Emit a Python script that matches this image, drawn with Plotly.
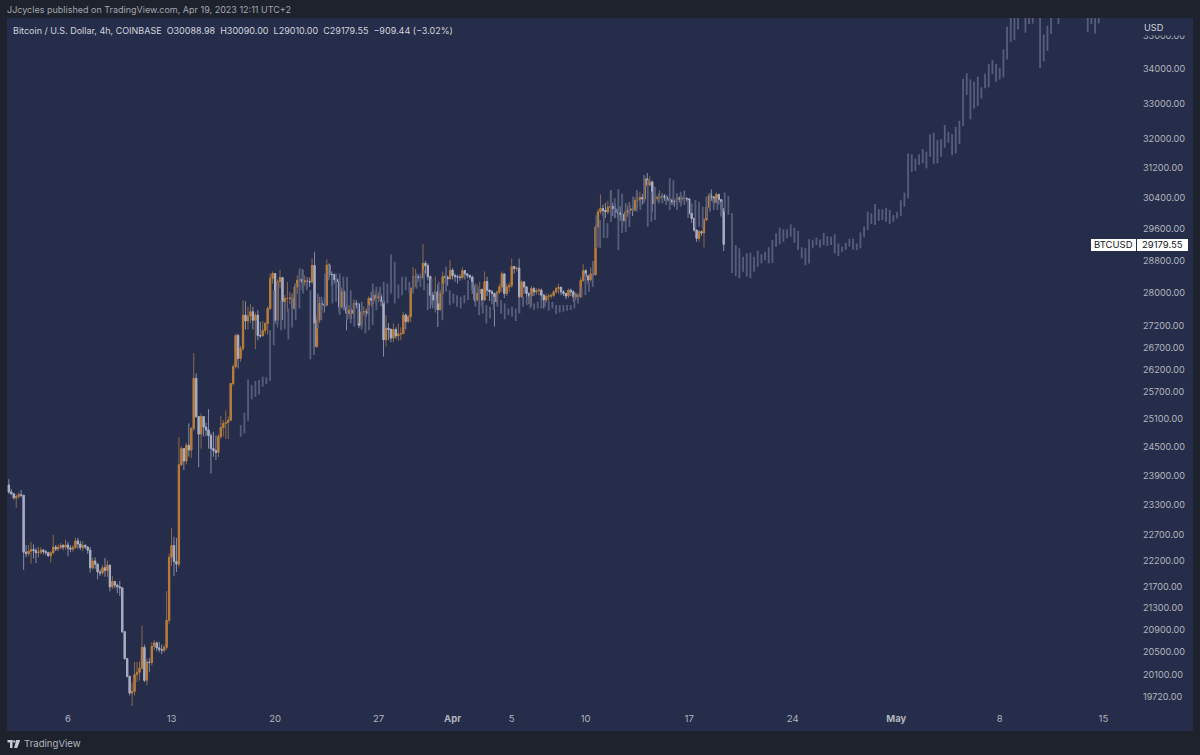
import pandas as pd
import plotly.graph_objects as go

# real 4h candles from Mar 2, one row per day
close_4h = [
    23540, 23500, 23420, 23450, 23480, 23470,
    22340, 22310, 22360, 22390, 22370, 22330,
    22340, 22380, 22350, 22330, 22270, 22330,
    22440, 22400, 22430, 22470, 22440, 22480,
    22420, 22400, 22430, 22560, 22500, 22430,
    22470, 22440, 22380, 22040, 22170, 22110,
    21960, 21940, 22040, 21990, 22090, 21680,
    21780, 21710, 21680, 21660, 20850, 20370,
    20060, 19770, 19800, 20090, 20130, 20200,
    20570, 19990, 20310, 20300, 20590, 20650,
    20560, 20530, 20520, 20570, 21060, 22240,
    22470, 22160, 22110, 24100, 24440, 24180,
    24510, 24410, 24870, 25975, 25130, 24750,
    25130, 24900, 24840, 24720, 24440, 24400,
    24360, 24700, 24890, 24980, 25000, 25050,
    25860, 26240, 26960, 26430, 26660, 27440,
    27300, 27420, 27520, 27320, 27440, 26960,
    26950, 27080, 27240, 27600, 28330, 28450,
    27320, 28250, 28350, 27760, 27840, 27840,
    27850, 27600, 28120, 28280, 28300, 28240,
    28270, 28250, 28240, 28650, 26700, 27320,
    27720, 27700, 27680, 28660, 28420, 28420,
    28300, 28250, 27640, 28000, 27640, 27480,
    27560, 27480, 27720, 27700, 27200, 27520,
    27520, 27480, 27840, 27800, 27920, 27850,
    27880, 27780, 26860, 27130, 27100, 26900,
    27100, 26950, 27000, 27000, 27440, 27290,
    27400, 28080, 28370, 28370, 28360, 28350,
    28700, 28640, 28370, 27920, 27800, 28000,
    27570, 27960, 28370, 28360, 28320, 28530,
    28400, 28370, 28360, 28350, 28520, 28440,
    28400, 28360, 28120, 27800, 27960, 28060,
    27800, 28250, 28040, 28000, 27960, 27760,
    27990, 28120, 28440, 27960, 28120, 28160,
    28620, 28570, 28580, 27880, 28240, 28120,
    27960, 27900, 28080, 28000, 28030, 28040,
    27920, 27800, 27890, 27900, 27910, 28000,
    28080, 28110, 28000, 27960, 27900, 28040,
    28000, 27880, 27930, 27880, 28280, 28520,
    28380, 28290, 28440, 28420, 29620, 30010,
    30100, 30050, 30010, 30130, 30150, 30100,
    30000, 29980, 29950, 29780, 29990, 30050,
    30090, 30060, 30310, 30330, 30390, 30350,
    30880, 30720, 30800, 30230, 30370, 30380,
    30400, 30430, 30390, 30350, 30310, 30270,
    30270, 30370, 30350, 30370, 30360, 30350,
    29970, 29840, 29540, 29330, 29500, 29470,
    29800, 30140, 30430, 30400, 30260, 30470,
    30330, 30088.98, 29179.55,
]
high_4h = [
    23800, 23600, 23520, 23490, 23530, 23580,
    23480, 22480, 22480, 22540, 22490, 22420,
    22440, 22440, 22400, 22390, 22350, 22360,
    22680, 22480, 22490, 22520, 22500, 22580,
    22540, 22470, 22480, 22620, 22620, 22560,
    22560, 22500, 22460, 22440, 22230, 22240,
    22130, 22010, 22090, 22230, 22180, 22090,
    21880, 21790, 21740, 21790, 21670, 20860,
    20380, 20060, 19950, 20310, 20310, 20320,
    20960, 20620, 20370, 20380, 20660, 20700,
    20670, 20670, 20620, 20620, 21600, 22310,
    22820, 22640, 22620, 24690, 24490, 24440,
    24560, 24980, 24900, 26550, 26090, 25130,
    25200, 25100, 25000, 25290, 24780, 24800,
    24720, 24750, 25140, 25050, 25260, 25130,
    25880, 26290, 27000, 27000, 26720, 27800,
    27770, 27640, 27700, 27640, 27500, 27560,
    27280, 27300, 27280, 27650, 28450, 28500,
    28450, 28300, 28540, 28350, 27920, 28240,
    28000, 27860, 28200, 28400, 28590, 28560,
    28400, 28360, 28350, 28820, 28990, 27450,
    27880, 27800, 27880, 28800, 28700, 28500,
    28450, 28350, 28330, 28100, 28040, 27700,
    27680, 27600, 27820, 27800, 27740, 27600,
    27650, 27600, 27890, 28000, 28050, 28020,
    28000, 27950, 27850, 27440, 27250, 27130,
    27240, 27150, 27240, 27150, 27520, 27480,
    27450, 28120, 28610, 28560, 28420, 28430,
    29180, 28760, 28700, 28400, 28000, 28370,
    28180, 28050, 28500, 28420, 28400, 28780,
    28580, 28450, 28420, 28430, 28600, 28540,
    28460, 28420, 28400, 28150, 28180, 28250,
    28070, 28500, 28370, 28060, 28050, 27980,
    28030, 28200, 28500, 28450, 28200, 28230,
    28820, 28640, 28620, 28820, 28280, 28260,
    28140, 27990, 28150, 28120, 28090, 28100,
    28080, 27950, 27960, 27950, 27960, 28040,
    28120, 28200, 28130, 28040, 27980, 28080,
    28080, 28040, 27990, 27960, 28350, 28680,
    28550, 28420, 28600, 28760, 29680, 30080,
    30470, 30200, 30250, 30300, 30560, 30250,
    30200, 30080, 30150, 29980, 30050, 30180,
    30180, 30150, 30400, 30520, 30540, 30480,
    30950, 31040, 30960, 30840, 30440, 30440,
    30580, 30500, 30480, 30440, 30380, 30370,
    30330, 30420, 30420, 30430, 30570, 30400,
    30370, 29990, 29860, 29560, 29540, 29530,
    29850, 30190, 30500, 30600, 30420, 30520,
    30480, 30340, 30090,
]
low_4h = [
    23500, 23480, 23380, 23220, 23400, 23430,
    22000, 22240, 22270, 22120, 22220, 22130,
    22240, 22300, 22300, 22280, 22250, 22140,
    22300, 22360, 22360, 22400, 22380, 22390,
    22260, 22340, 22350, 22400, 22410, 22380,
    22360, 22400, 22310, 21950, 22000, 22020,
    21820, 21880, 21900, 21870, 21870, 21590,
    21640, 21650, 21560, 21510, 20830, 20350,
    20040, 19730, 19550, 19730, 19960, 19990,
    20200, 19960, 19900, 20130, 20250, 20520,
    20500, 20480, 20450, 20480, 20530, 21000,
    22080, 21880, 21960, 22050, 24070, 23990,
    24110, 24270, 24240, 24820, 25100, 24050,
    24440, 24700, 24700, 24440, 23920, 24270,
    24200, 24260, 24650, 24700, 24650, 24640,
    25040, 25800, 26200, 26200, 26350, 26600,
    27100, 27100, 27250, 27100, 26640, 26850,
    26900, 26950, 27000, 26980, 27560, 28200,
    27240, 27150, 28100, 27320, 27600, 27520,
    27700, 27360, 27560, 27950, 28050, 28040,
    28150, 28100, 28120, 28200, 26680, 26680,
    27250, 27550, 27500, 27650, 28350, 28150,
    28200, 28100, 27500, 27600, 27550, 27080,
    27350, 27350, 27380, 27600, 27130, 27100,
    27420, 27400, 27470, 27650, 27700, 27720,
    27740, 27650, 26470, 26700, 26850, 26800,
    26800, 26880, 26830, 26850, 27200, 27100,
    27250, 27280, 28050, 28120, 28250, 28200,
    28300, 28450, 28280, 27600, 27600, 27500,
    27160, 27550, 27950, 28200, 28150, 28300,
    28300, 28250, 28200, 28270, 28300, 28300,
    28330, 28300, 27950, 27750, 27780, 27600,
    27640, 27780, 27900, 27780, 27700, 27170,
    27700, 27950, 28000, 27850, 27900, 28000,
    28100, 28450, 28500, 27500, 27850, 27950,
    27750, 27700, 27650, 27900, 27930, 27920,
    27800, 27600, 27740, 27760, 27840, 27870,
    27960, 27950, 27920, 27900, 27820, 27850,
    27900, 27760, 27800, 27800, 27850, 28240,
    28200, 28180, 28250, 28380, 28400, 29100,
    29950, 29900, 29850, 29950, 29980, 29900,
    29850, 29850, 29780, 29650, 29750, 29880,
    29950, 29900, 30030, 30100, 30150, 30200,
    30300, 30650, 30680, 30020, 30180, 30300,
    30260, 30330, 30300, 30280, 30230, 30190,
    30140, 30220, 30260, 30220, 30280, 30280,
    29950, 29720, 29500, 29240, 29250, 29400,
    29100, 29780, 30100, 30300, 30180, 30230,
    30200, 30010, 29010,
]
first_open = 23680

# the grey projected bars, only their high and low can be read
ghost_high = [
    24945, 25215, 25950, 25825, 25915, 25940, 26015, 26000, 27090, 28040,
    28245, 27800, 27760, 27600, 27960, 28205, 28535, 28535, 28285, 28040,
    27245, 27960, 27880, 28450, 28660, 28410, 28450, 28450, 28370, 28370,
    28040, 27760, 27720, 27760, 27520, 27680, 28205, 28125, 28125, 28245,
    28205, 28925, 28740, 28180, 28370, 28370, 28245, 28370, 28450, 28450,
    28530, 28205, 28330, 28040, 28245, 28205, 28615, 28040, 27960, 27920,
    27880, 27920, 28285, 28245, 28205, 28120, 27800, 27680, 27640, 27880,
    27960, 27800, 27720, 27600, 27640, 27600, 27840, 27880, 27880, 27960,
    27720, 27760, 27880, 27800, 27760, 27760, 27680, 27680, 27680, 27680,
    27680, 27920, 27960, 28120, 28450, 28245, 28615, 29930, 29800, 29980,
    29720, 30586, 30370, 30610, 30495, 30240, 30270, 30410, 30586, 30320,
    30985, 30850, 30540, 30675, 30495, 30495, 30450, 30905, 30850, 30497,
    30540, 30450, 30320, 30235, 30320, 30275, 30150, 30410, 30497, 30365,
    30365, 30275, 30520, 30435, 29980, 29160, 29078, 28865, 28950, 28965,
    28865, 29020, 28930, 28990, 29105, 29286, 29460, 29600, 29560, 29560,
    29690, 29600, 29515, 29105, 29078, 29310, 29286, 29350, 29300, 29470,
    29390, 29370, 29435, 29200, 29120, 29215, 29320, 29320, 29200, 29480,
    29630, 30015, 29975, 30215, 30080, 30080, 30120, 30060, 29930, 30015,
    30320, 30515, 31570, 31550, 31435, 31540, 31690, 31620, 32100, 32145,
    31940, 31960, 32360, 32170, 32100, 32310, 32480, 33675, 33840, 33665,
    33595, 33745, 33435, 33840, 34115, 34235, 34115, 34000, 34555, 35240,
    35650, 35800, 35900, 36300, 35800, 35700, 35700, 36400, 36000, 35000,
    35270, 35700, 36300, 35800, 36300, 36400, 36500, 36400, 36300, 36400,
    36300, 35800, 35700, 35800, 35800,
]
ghost_low = [
    24695, 24765, 25040, 25510, 25565, 25615, 25790, 25850, 25915, 26735,
    27205, 27085, 27105, 26870, 27150, 27320, 27600, 27960, 28040, 26410,
    26505, 27125, 27320, 27640, 28285, 27720, 27760, 27440, 27560, 27320,
    27245, 27165, 27245, 27125, 27010, 27085, 27205, 27560, 27800, 27720,
    27720, 27960, 27720, 27840, 27920, 28040, 27960, 27960, 28080, 28120,
    28040, 27560, 27680, 27560, 27720, 27320, 28000, 27680, 27720, 27640,
    27600, 27720, 27800, 28040, 27640, 27440, 27480, 27240, 27360, 27560,
    27640, 27480, 27340, 27440, 27400, 27300, 27480, 27640, 27680, 27600,
    27560, 27600, 27600, 27640, 27545, 27600, 27465, 27500, 27520, 27545,
    27560, 27600, 27720, 27880, 27920, 28000, 28120, 29085, 29085, 29335,
    29335, 29750, 29850, 29034, 29465, 29490, 29620, 30015, 30015, 30059,
    30235, 29628, 29755, 29800, 30235, 30235, 30190, 30059, 30190, 30059,
    30150, 30190, 29850, 29980, 29595, 29628, 29595, 29850, 30015, 30059,
    30059, 29890, 30015, 29930, 28460, 28385, 28330, 28495, 28370, 28330,
    28495, 28615, 28700, 28780, 28700, 28715, 29120, 29180, 29245, 29330,
    29370, 29215, 29035, 28825, 28655, 28700, 29078, 29160, 29100, 29160,
    29135, 29160, 28950, 28885, 28990, 29035, 29120, 29050, 29035, 29075,
    29355, 29542, 29695, 29670, 29780, 29800, 29755, 29695, 29755, 29840,
    29905, 30145, 30365, 31075, 31100, 31255, 31300, 31165, 31480, 31280,
    31300, 31480, 31730, 31865, 31525, 31570, 31830, 32330, 33210, 32520,
    32830, 32895, 33115, 33405, 33435, 33820, 33595, 33665, 33725, 34255,
    34775, 34835, 35165, 35700, 35060, 35320, 35340, 35600, 34000, 34200,
    34510, 35020, 35600, 35320, 35600, 35600, 35600, 35600, 35600, 35600,
    35600, 35080, 35320, 35030, 35340,
]

price_ticks = [35000, 34000, 33000, 32000, 31200, 30400, 29600, 28800, 28000, 27200, 26700, 26200,
               25700, 25100, 24500, 23900, 23300, 22700, 22200, 21700, 21300, 20900, 20500, 20100, 19720]
date_ticks = ["2023-03-06", "2023-03-13", "2023-03-20", "2023-03-27", "2023-04-01", "2023-04-05", "2023-04-10",
              "2023-04-17", "2023-04-24", "2023-05-01", "2023-05-08", "2023-05-15"]
date_labels = ["6", "13", "20", "27", "<b>Apr</b>", "5", "10", "17", "24", "<b>May</b>", "8", "15"]

OUTER = "#1e222d"
PANEL = "#262d4a"
TXT = "#b2b5be"
FONT = "Inter"
W, H = 1200, 755
L, R, T, B = 7, 1140, 18, 708   # plot area in page pixels


def px(x):
    return (x - L) / (R - L)


def py(y):
    return (B - y) / (B - T)


def label(x, y, text, size=9, color=TXT, anchor="left"):
    return dict(xref="paper", yref="paper", x=px(x), y=py(y), text=text, showarrow=False,
                xanchor=anchor, yanchor="middle", align=anchor, font=dict(family=FONT, size=size, color=color))


def box(x0, y0, x1, y1, color, layer="below"):
    return dict(type="rect", xref="paper", yref="paper", x0=px(x0), x1=px(x1), y0=py(y1), y1=py(y0),
                fillcolor=color, line_width=0, layer=layer)


opens = [first_open] + close_4h[:-1]
body_top = [max(o, c) for o, c in zip(opens, close_4h)]
body_bot = [min(o, c) for o, c in zip(opens, close_4h)]
times = pd.date_range(end="2023-04-19 08:00", periods=len(close_4h), freq="4h")
ghost_times = pd.date_range("2023-03-17 16:15", periods=len(ghost_high), freq="357min")

fig = go.Figure()
fig.add_trace(go.Ohlc(x=ghost_times, open=ghost_low, high=ghost_high, low=ghost_low, close=ghost_high,
                      tickwidth=0, line_width=1.8, increasing_line_color="#565e7c",
                      decreasing_line_color="#565e7c", hoverinfo="skip"))
# wicks are dimmer than the bodies so draw them as their own trace underneath
fig.add_trace(go.Candlestick(x=times, open=opens, high=high_4h, low=low_4h, close=close_4h,
                             whiskerwidth=0, hoverinfo="skip",
                             increasing=dict(line=dict(color="#8a6a4e", width=1), fillcolor="#8a6a4e"),
                             decreasing=dict(line=dict(color="#868ca6", width=1), fillcolor="#868ca6")))
fig.add_trace(go.Candlestick(x=times, open=opens, high=body_top, low=body_bot, close=close_4h,
                             whiskerwidth=0, hoverinfo="skip",
                             increasing=dict(line=dict(color="#b87c3a", width=1), fillcolor="#b87c3a"),
                             decreasing=dict(line=dict(color="#a8adc2", width=1), fillcolor="#a8adc2")))

fig.update_layout(
    width=W, height=H, margin=dict(l=L, r=W - R, t=T, b=H - B, pad=0),
    paper_bgcolor=OUTER, plot_bgcolor=PANEL, showlegend=False,
    font=dict(family=FONT, size=9, color=TXT),
    xaxis=dict(type="date", range=["2023-03-01 21:00", "2023-05-17 11:30"], rangeslider_visible=False,
               showgrid=False, zeroline=False, showline=False, ticks="",
               tickmode="array", tickvals=date_ticks, ticktext=date_labels, ticklabelstandoff=3,
               tickfont=dict(family=FONT, size=9.5, color=TXT)),
    yaxis=dict(type="log", side="right", range=[4.29039, 4.55032], showgrid=False, zeroline=False,
               showline=False, ticks="", tickmode="array", tickvals=price_ticks,
               ticktext=[f"{p:.2f}" for p in price_ticks], ticklabelstandoff=2, ticklabelshift=1,
               tickfont=dict(family=FONT, size=9.1, color=TXT)),
    shapes=[
        box(7, 18, 1193, 731, PANEL),
        box(1141, 18, 1193, 35.5, PANEL, "above"),
        box(1091, 239, 1136, 251, "#ffffff", "above"),
        box(1137, 239, 1188, 251, "#ffffff", "above"),
        # TradingView mark
        box(7.5, 740, 12.5, 742.5, "#c8cad2"),
        box(10, 740, 12.5, 748, "#c8cad2"),
        box(13.2, 740.5, 15.2, 742.5, "#c8cad2"),
        dict(type="path", xref="paper", yref="paper", line_width=0, fillcolor="#c8cad2",
             path=f"M {px(16.2)} {py(740)} L {px(20.2)} {py(740)} L {px(17.2)} {py(748)} L {px(14.2)} {py(748)} Z"),
    ],
    annotations=[
        label(5, 10, "JJcycles published on TradingView.com, Apr 19, 2023 12:11 UTC+2", 9, "#a3a6af"),
        label(11, 30, "Bitcoin / U.S. Dollar, 4h, COINBASE  O30088.98  H30090.00  L29010.00  C29179.55  −909.44 (−3.02%)",
              9, "#d1d4dc"),
        label(1142, 28, "USD", 9.2, "#d1d4dc"),
        label(1113.5, 245, "BTCUSD", 9.5, "#131722", "center"),
        label(1162.5, 245, "29179.55", 9.5, "#131722", "center"),
        label(22, 743, "TradingView", 9.6, "#b2b5be"),
    ],
)

fig.write_html("out.html", config=dict(displayModeBar=False), post_script="document.body.style.margin='0';")
